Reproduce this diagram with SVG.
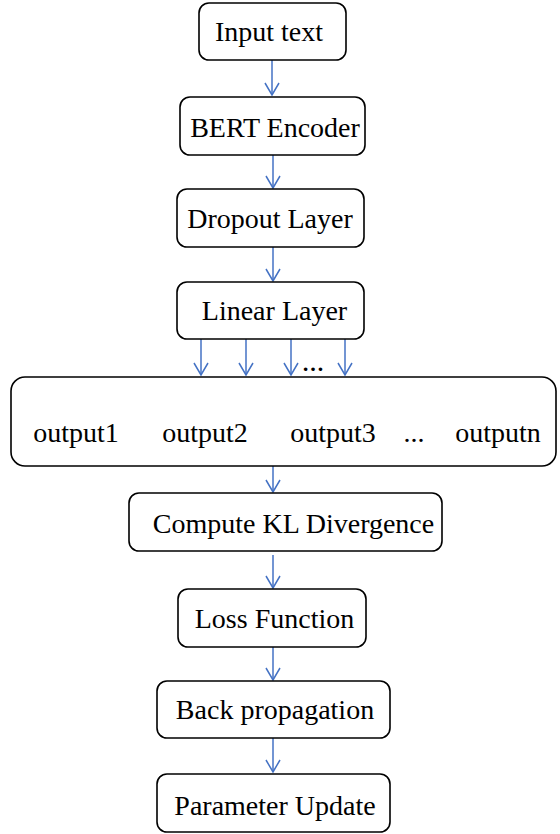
<svg xmlns="http://www.w3.org/2000/svg" width="560" height="834" viewBox="0 0 560 834">
<style>
.box{fill:#fff;stroke:#000;stroke-width:1.6}
.t{font-family:'Liberation Serif','Times New Roman',serif;font-size:28px;fill:#000;text-anchor:middle}
.c{stroke:#4472C4;stroke-width:1.5;fill:none}
</style>
<defs>
<marker id="ah" markerUnits="userSpaceOnUse" markerWidth="16" markerHeight="18" viewBox="-14 -9 16 18" refX="0" refY="0" orient="auto" overflow="visible">
<path d="M-12,-7 L0,0 L-12,7" fill="none" stroke="#4472C4" stroke-width="1.5"/>
</marker>
</defs>
<rect width="560" height="834" fill="#fff"/>
<g id="connectors">
<line class="c" x1="272" y1="60" x2="272" y2="95" marker-end="url(#ah)"/>
<line class="c" x1="273" y1="155" x2="273" y2="188" marker-end="url(#ah)"/>
<line class="c" x1="273" y1="247" x2="273" y2="281" marker-end="url(#ah)"/>
<line class="c" x1="201" y1="339" x2="201" y2="375" marker-end="url(#ah)"/>
<line class="c" x1="246" y1="339" x2="246" y2="375" marker-end="url(#ah)"/>
<line class="c" x1="291" y1="339" x2="291" y2="375" marker-end="url(#ah)"/>
<line class="c" x1="345" y1="339" x2="345" y2="375" marker-end="url(#ah)"/>
<line class="c" x1="273" y1="466" x2="273" y2="492" marker-end="url(#ah)"/>
<line class="c" x1="273" y1="555" x2="273" y2="588" marker-end="url(#ah)"/>
<line class="c" x1="273" y1="647" x2="273" y2="680" marker-end="url(#ah)"/>
<line class="c" x1="273" y1="738" x2="273" y2="772" marker-end="url(#ah)"/>
<text x="313" y="371" class="t" style="font-weight:bold;font-size:22px">…</text>
</g>
<g id="input"><rect class="box" x="199" y="3" width="147" height="57" rx="10"/><text class="t" x="269" y="41">Input text</text></g>
<g id="bert"><rect class="box" x="180" y="97" width="185" height="58" rx="10"/><text class="t" x="275" y="137">BERT Encoder</text></g>
<g id="dropout"><rect class="box" x="177" y="189" width="187" height="58" rx="10"/><text class="t" x="270" y="228">Dropout Layer</text></g>
<g id="linear"><rect class="box" x="177" y="282" width="187" height="57" rx="10"/><text class="t" x="274.5" y="320">Linear Layer</text></g>
<g id="outputs"><rect class="box" x="11" y="377" width="545" height="89" rx="14"/>
<text class="t" x="76" y="442">output1</text>
<text class="t" x="205" y="442">output2</text>
<text class="t" x="333" y="442">output3</text>
<text class="t" x="414" y="442">...</text>
<text class="t" x="498" y="442">outputn</text>
</g>
<g id="kl"><rect class="box" x="129" y="493" width="313" height="58" rx="10"/><text class="t" x="293.5" y="533">Compute KL Divergence</text></g>
<g id="loss"><rect class="box" x="178" y="589" width="188" height="58" rx="10"/><text class="t" x="274.5" y="628">Loss Function</text></g>
<g id="backprop"><rect class="box" x="157" y="681" width="233" height="57" rx="10"/><text class="t" x="275" y="719">Back propagation</text></g>
<g id="update"><rect class="box" x="157" y="774" width="233" height="58" rx="10"/><text class="t" x="275" y="815">Parameter Update</text></g>
</svg>
